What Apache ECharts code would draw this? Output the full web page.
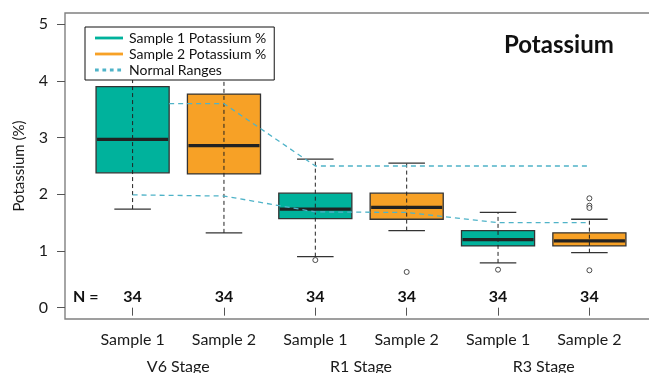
<!DOCTYPE html>
<html>
<head>
<meta charset="utf-8">
<script src="https://cdn.jsdelivr.net/npm/echarts@6/dist/echarts.min.js"></script>
<style>
html,body{margin:0;padding:0;background:#fff;}
#main{width:649px;height:373px;}
</style>
</head>
<body>
<div id="main"></div>
<script>
// x labels per box position (1..6) and stage names (between pairs)
var categories = ['Sample 1', 'Sample 2', 'Sample 1', 'Sample 2', 'Sample 1', 'Sample 2'];
var stages = ['V6 Stage', 'R1 Stage', 'R3 Stage'];
var stagePos = [1.5, 3.5, 5.5];
var yTicks = [0, 1, 2, 3, 4, 5];

// [position, lower whisker, Q1, median, Q3, upper whisker]
var sample1Boxes = [
  [1, 1.74, 2.38, 2.97, 3.90, 4.45],
  [3, 0.90, 1.57, 1.74, 2.02, 2.62],
  [5, 0.79, 1.09, 1.20, 1.36, 1.68]
];
var sample2Boxes = [
  [2, 1.32, 2.36, 2.86, 3.77, 4.60],
  [4, 1.36, 1.56, 1.77, 2.02, 2.55],
  [6, 0.97, 1.09, 1.18, 1.32, 1.56]
];
var sample1Outliers = [[3, 0.84], [5, 0.67]];
var sample2Outliers = [[4, 0.63], [6, 1.93], [6, 1.80], [6, 1.76], [6, 0.66]];

var normalUpper = [[1.4, 3.6], [2, 3.6], [3, 2.5], [4, 2.5], [5, 2.5], [6, 2.5]];
var normalLower = [[1, 1.99], [2, 1.97], [3, 1.69], [4, 1.68], [5, 1.5], [6, 1.5]];

var nCounts = [34, 34, 34, 34, 34, 34];
var nLabelY = 0.19;

var teal = '#00b29c';
var orange = '#f7a126';
var rangeColor = '#4fb3c8';
var font = 'Lato';

var lineIcon = 'path://M0,0L30,0L30,3L0,3Z';
var dashIcon = 'path://M0,0h4v3h-4z M8,0h4v3h-4z M16,0h4v3h-4z M24,0h4v3h-4z M30,0h0.1v0.1h-0.1z';

function renderBox(color) {
  return function (params, api) {
    var x = api.value(0);
    var lo = api.coord([x, api.value(1)]);
    var q1 = api.coord([x, api.value(2)]);
    var med = api.coord([x, api.value(3)]);
    var q3 = api.coord([x, api.value(4)]);
    var hi = api.coord([x, api.value(5)]);
    var bw = api.size([0.8, 0])[0];
    var cw = api.size([0.4, 0])[0];
    var cx = lo[0];
    return {
      type: 'group',
      children: [
        {type: 'line', shape: {x1: cx - cw / 2, y1: lo[1], x2: cx + cw / 2, y2: lo[1]},
          style: {stroke: '#333', lineWidth: 1.3}},
        {type: 'line', shape: {x1: cx - cw / 2, y1: hi[1], x2: cx + cw / 2, y2: hi[1]},
          style: {stroke: '#333', lineWidth: 1.3}},
        {type: 'rect', shape: {x: cx - bw / 2, y: q3[1], width: bw, height: q1[1] - q3[1]},
          style: {fill: color, stroke: '#333', lineWidth: 1.3}},
        {type: 'line', shape: {x1: cx, y1: lo[1], x2: cx, y2: hi[1]},
          style: {stroke: '#222', lineWidth: 1, lineDash: [4, 3]}},
        {type: 'line', shape: {x1: cx - bw / 2 + 1, y1: med[1], x2: cx + bw / 2 - 1, y2: med[1]},
          style: {stroke: '#222', lineWidth: 3.2}}
      ]
    };
  };
}

var myChart = echarts.init(document.getElementById('main'));
var option = {
  animation: false,
  textStyle: {fontFamily: font},
  title: {
    text: 'Potassium',
    left: 499,
    top: 28,
    textStyle: {fontFamily: font, fontSize: 24, fontWeight: 'bold', color: '#111'}
  },
  legend: {
    orient: 'vertical',
    left: 85,
    top: 27,
    padding: [4, 8, 3, 10],
    itemGap: 2,
    itemWidth: 28,
    itemHeight: 3,
    backgroundColor: '#fff',
    borderColor: '#111',
    borderWidth: 1,
    borderRadius: 0,
    z: 10,
    selectedMode: false,
    textStyle: {fontFamily: font, fontSize: 14, color: '#111', padding: [0, 0, 0, 1]},
    data: [
      {name: 'Sample 1 Potassium %', icon: lineIcon, itemStyle: {color: teal}},
      {name: 'Sample 2 Potassium %', icon: lineIcon, itemStyle: {color: orange}},
      {name: 'Normal Ranges', icon: dashIcon, itemStyle: {color: rangeColor}}
    ]
  },
  grid: {
    left: 65,
    top: 13,
    width: 592,
    height: 306,
    outerBoundsMode: 'none',
    containLabel: false,
    show: true,
    borderColor: '#808080',
    borderWidth: 1.4
  },
  xAxis: [
    {
      type: 'value',
      min: 0.26,
      max: 6.74,
      splitLine: {show: false},
      axisLine: {show: false},
      axisTick: {show: true, length: 8, customValues: [1, 2, 3, 4, 5, 6], lineStyle: {color: '#555'}},
      axisLabel: {
        customValues: [1, 2, 3, 4, 5, 6],
        margin: 13,
        fontSize: 16,
        fontFamily: font,
        color: '#1a1a1a',
        formatter: function (v) { return categories[Math.round(v) - 1]; }
      }
    },
    {
      type: 'value',
      min: 0.26,
      max: 6.74,
      position: 'bottom',
      splitLine: {show: false},
      axisLine: {show: false},
      axisTick: {show: false},
      axisLabel: {
        customValues: stagePos,
        margin: 40,
        fontSize: 16,
        fontFamily: font,
        color: '#1a1a1a',
        formatter: function (v) { return stages[stagePos.indexOf(v)]; }
      }
    }
  ],
  yAxis: {
    type: 'value',
    min: -0.2,
    max: 5.2,
    name: 'Potassium (%)',
    nameLocation: 'middle',
    nameGap: 38,
    nameTextStyle: {fontFamily: font, fontSize: 15, color: '#1a1a1a'},
    splitLine: {show: false},
    axisLine: {show: false},
    axisTick: {show: true, length: 8, customValues: yTicks, lineStyle: {color: '#555'}},
    axisLabel: {customValues: yTicks, margin: 17, fontSize: 16, fontFamily: font, color: '#1a1a1a'}
  },
  graphic: [
    {type: 'text', left: 73, top: 289, style: {text: 'N =', fontFamily: font, fontSize: 16, fontWeight: 'bold', fill: '#111'}}
  ],
  series: [
    {
      name: 'Sample 1 Potassium %',
      type: 'custom',
      itemStyle: {color: teal},
      renderItem: renderBox(teal),
      encode: {x: 0, y: [1, 2, 3, 4, 5]},
      data: sample1Boxes,
      z: 2
    },
    {
      name: 'Sample 2 Potassium %',
      type: 'custom',
      itemStyle: {color: orange},
      renderItem: renderBox(orange),
      encode: {x: 0, y: [1, 2, 3, 4, 5]},
      data: sample2Boxes,
      z: 2
    },
    {
      type: 'scatter',
      symbol: 'circle',
      symbolSize: 5,
      itemStyle: {color: '#fff', borderColor: '#222', borderWidth: 1},
      data: sample1Outliers.concat(sample2Outliers),
      z: 3
    },
    {
      name: 'Normal Ranges',
      type: 'line',
      symbol: 'none',
      color: rangeColor,
      lineStyle: {color: rangeColor, width: 1.3, type: [5, 4]},
      data: normalUpper,
      z: 4
    },
    {
      name: 'Normal Ranges',
      type: 'line',
      symbol: 'none',
      color: rangeColor,
      lineStyle: {color: rangeColor, width: 1.3, type: [5, 4]},
      data: normalLower,
      z: 4
    },
    {
      type: 'custom',
      renderItem: function (params, api) {
        var p = api.coord([api.value(0), api.value(1)]);
        return {
          type: 'text',
          x: p[0],
          y: p[1],
          style: {
            text: String(api.value(2)),
            fontFamily: font,
            fontSize: 16,
            fontWeight: 'bold',
            fill: '#111',
            align: 'center',
            verticalAlign: 'middle'
          }
        };
      },
      encode: {x: 0, y: 1},
      data: nCounts.map(function (n, i) { return [i + 1, nLabelY, n]; }),
      z: 5
    }
  ]
};
myChart.setOption(option);
</script>
</body>
</html>
